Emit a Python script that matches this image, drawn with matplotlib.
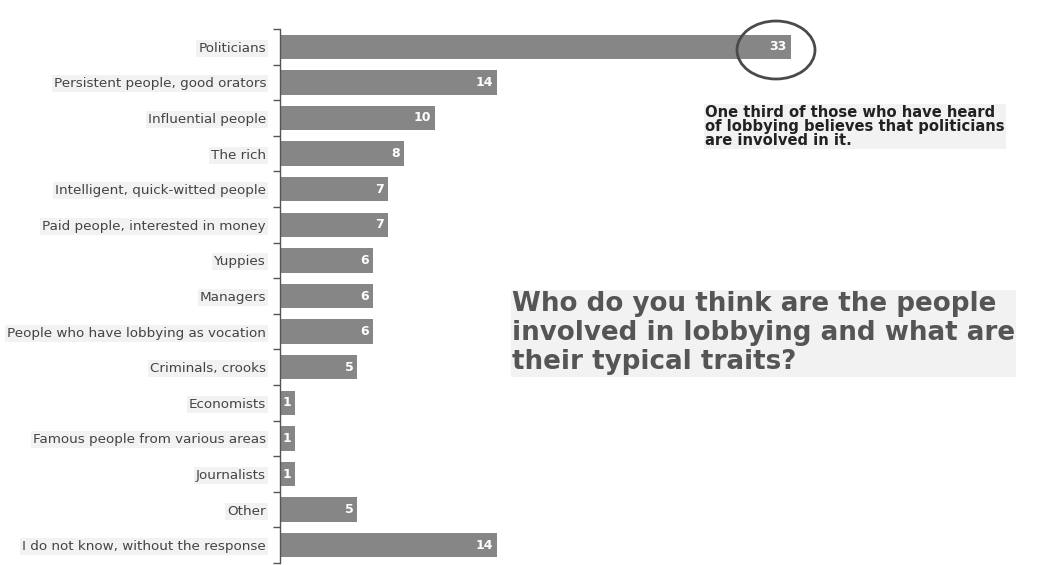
"""
Who is involved in lobbying — horizontal bar chart of survey answers.
Writes out.png (1042x565).
"""

import matplotlib
matplotlib.use("Agg")
import matplotlib.pyplot as plt
from matplotlib.patches import Ellipse
import numpy as np

# ── Data ──────────────────────────────────────────────────────────────────────

categories = [
    "Politicians",
    "Persistent people, good orators",
    "Influential people",
    "The rich",
    "Intelligent, quick-witted people",
    "Paid people, interested in money",
    "Yuppies",
    "Managers",
    "People who have lobbying as vocation",
    "Criminals, crooks",
    "Economists",
    "Famous people from various areas",
    "Journalists",
    "Other",
    "I do not know, without the response",
]
values = [33, 14, 10, 8, 7, 7, 6, 6, 6, 5, 1, 1, 1, 5, 14]

TITLE = "Who do you think are the people\ninvolved in lobbying and what are\ntheir typical traits?"
NOTE = ("One third of those who have heard\nof lobbying believes that politicians\n"
        "are involved in it.")

# ── Style ─────────────────────────────────────────────────────────────────────

BG = "#ffffff"
BAR = "#868686"
LABEL = "#444444"
AXIS = "#555555"
HALO = "#f2f2f2"   # faint grey patches behind the text, as in the scan

W, H, DPI = 1042, 565, 100

# ── Figure ────────────────────────────────────────────────────────────────────

fig = plt.figure(figsize=(W / DPI, H / DPI), dpi=DPI)
fig.patch.set_facecolor(BG)

# axis line sits at x=280px, rows span y=29..563px
ax = fig.add_axes([280 / W, 2 / H, (W - 280) / W, (563 - 29) / H])
ax.set_facecolor("none")

y = np.arange(len(categories))
bars = ax.barh(y, values, height=0.68, color=BAR, zorder=2)

ax.set_xlim(0, 49.2)
ax.set_ylim(len(categories) - 0.5, -0.5)

for rect, v in zip(bars, values):
    ax.annotate(str(v), xy=(rect.get_width(), rect.get_y() + rect.get_height() / 2),
                xytext=(-3, 0), textcoords="offset points",
                ha="right", va="center", color="white",
                fontsize=9, fontweight="bold", zorder=3)

# spines and ticks
for side in ("top", "right", "bottom"):
    ax.spines[side].set_visible(False)
ax.spines["left"].set_color(AXIS)
ax.spines["left"].set_linewidth(1.0)
ax.set_xticks([])
ax.set_yticks(y)
ax.set_yticklabels(categories, fontsize=9.7, color=LABEL)
for lbl in ax.get_yticklabels():
    lbl.set_bbox(dict(facecolor=HALO, edgecolor="none", pad=1.5))
ax.tick_params(axis="y", which="major", length=0, pad=10)
ax.set_yticks(np.arange(-0.5, len(categories)), minor=True)
ax.tick_params(axis="y", which="minor", length=5, width=1.0, color=AXIS)

# circle around the top value
circle = Ellipse((776, H - 50), 78, 58, transform=None,
                 fill=False, edgecolor="#4a4a4a", linewidth=2.0, zorder=4)
fig.add_artist(circle)

# note and title
fig.text(705 / W, 1 - 105 / H, NOTE, ha="left", va="top",
         fontsize=10.6, fontweight="bold", color="#222222", linespacing=0.9,
         bbox=dict(facecolor=HALO, edgecolor="none", pad=1))
fig.text(512 / W, 1 - 291 / H, TITLE, ha="left", va="top",
         fontsize=18.8, fontweight="bold", color="#555555", linespacing=1.16,
         bbox=dict(facecolor=HALO, edgecolor="none", pad=1))

fig.savefig("out.png", dpi=DPI, facecolor=BG)
plt.close(fig)
